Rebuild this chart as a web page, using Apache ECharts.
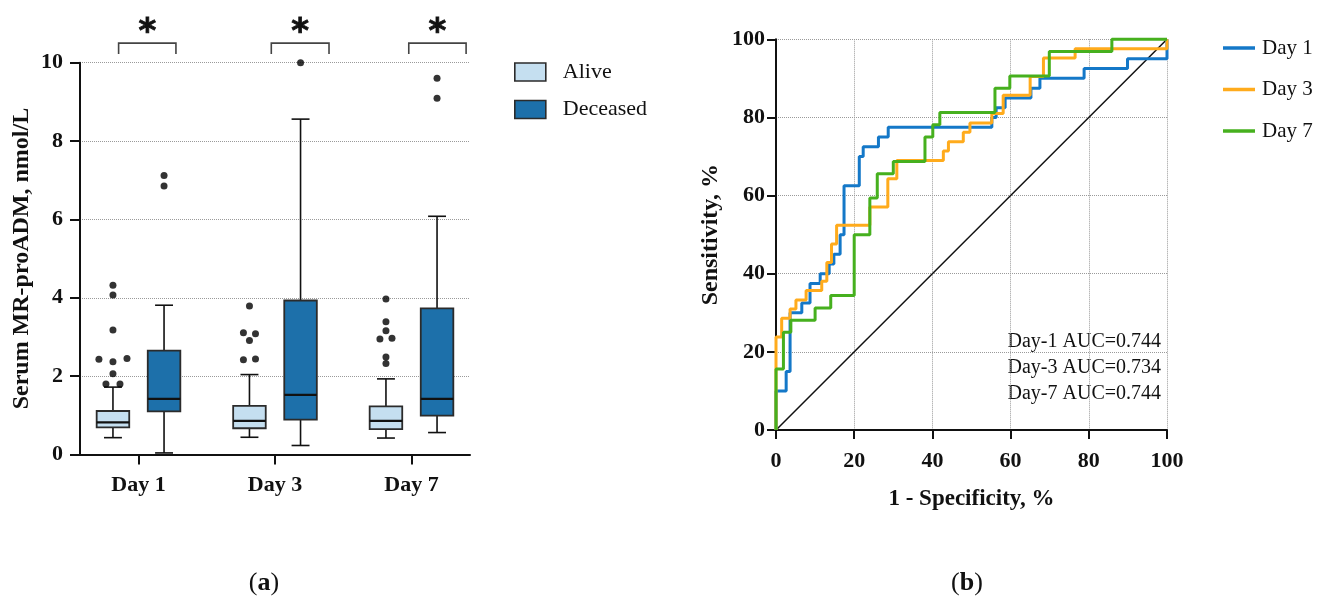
<!DOCTYPE html>
<html><head><meta charset="utf-8">
<script src="https://cdn.jsdelivr.net/npm/echarts@6/dist/echarts.min.js"></script>
<style>html,body{margin:0;padding:0;background:#fff}#c{width:1341px;height:601px}</style>
</head><body><div id="c"></div>
<script>
// ---------------- DATA ----------------
const categories = ['Day 1', 'Day 3', 'Day 7'];
const groupNames = ['Alive', 'Deceased'];
// [lower whisker, Q1, median, Q3, upper whisker]
const aliveStats = [
  [0.43, 0.69, 0.82, 1.11, 1.72],
  [0.44, 0.67, 0.86, 1.24, 2.04],
  [0.42, 0.65, 0.86, 1.23, 1.93]
];
const deceasedStats = [
  [0.04, 1.10, 1.42, 2.65, 3.81],
  [0.23, 0.89, 1.52, 3.93, 8.56],
  [0.56, 0.99, 1.42, 3.73, 6.08]
];
const aliveOutliers = [
  [4.32, 4.07, 3.18, 2.45, 2.43, 2.37, 2.06, 1.80, 1.80],
  [3.79, 3.11, 3.08, 2.91, 2.44, 2.42],
  [3.97, 3.39, 3.16, 2.97, 2.95, 2.49, 2.32]
];
const deceasedOutliers = [
  [7.12, 6.85],
  [10.0],
  [9.60, 9.09]
];
const significance = ['*', '*', '*'];

const rocNames = ['Day 1', 'Day 3', 'Day 7'];
const rocDay1 = [[0,0],[0,10],[2.6,10],[2.6,15],[3.6,15],[3.6,30],[6.6,30],[6.6,32.5],[8.7,32.5],[8.7,37.5],[11.3,37.5],[11.3,40],[13.6,40],[13.6,42.5],[14.8,42.5],[14.8,45],[16.4,45],[16.4,50],[17.4,50],[17.4,62.5],[21.3,62.5],[21.3,70],[22.3,70],[22.3,72.5],[26.2,72.5],[26.2,75],[28.7,75],[28.7,77.5],[55.2,77.5],[55.2,80],[56.3,80],[56.3,82.5],[58.6,82.5],[58.6,85],[65.2,85],[65.2,87.5],[67.5,87.5],[67.5,90],[78.8,90],[78.8,92.5],[89.9,92.5],[89.9,95],[100,95],[100,100]];
const rocDay3 = [[0,0],[0,23.8],[1.45,23.8],[1.45,28.6],[3.6,28.6],[3.6,31],[5.1,31],[5.1,33.3],[7.7,33.3],[7.7,35.7],[11.7,35.7],[11.7,38.1],[13,38.1],[13,42.9],[14.2,42.9],[14.2,47.6],[15.5,47.6],[15.5,52.4],[24,52.4],[24,57.1],[28.6,57.1],[28.6,64.3],[30.9,64.3],[30.9,69],[42.8,69],[42.8,71.4],[44.1,71.4],[44.1,73.8],[47.9,73.8],[47.9,76.2],[49.6,76.2],[49.6,78.6],[55.2,78.6],[55.2,81],[58.1,81],[58.1,85.7],[65,85.7],[65,90.5],[68.4,90.5],[68.4,95.2],[76.5,95.2],[76.5,97.6],[100,97.6],[100,100]];
const rocDay7 = [[0,0],[0,15.6],[1.9,15.6],[1.9,25],[3.8,25],[3.8,28.1],[10,28.1],[10,31.25],[14,31.25],[14,34.4],[20,34.4],[20,50],[24,50],[24,59.4],[25.9,59.4],[25.9,65.6],[30,65.6],[30,68.75],[38.1,68.75],[38.1,75],[40.1,75],[40.1,78.1],[41.9,78.1],[41.9,81.25],[56,81.25],[56,87.5],[59.8,87.5],[59.8,90.6],[69.9,90.6],[69.9,96.9],[85.9,96.9],[85.9,100],[100,100]];
const referenceLine = [[0,0],[100,100]];
const aucLabels = ['Day-1 AUC=0.744', 'Day-3 AUC=0.734', 'Day-7 AUC=0.744'];
const panelLabels = ['a', 'b'];

// ---------------- LAYOUT / STYLE ----------------
const SERIF = '"Liberation Serif", "Times New Roman", serif';
const dayPos = [3, 10, 17];          // x positions of categories on the left panel axis (0..20)
const groupOffset = [-1.31, 1.31];   // box offsets within a category
const boxW = 1.67, capW = 0.92;
const aliveSlots = [[0,0,0,1,-1,0,0,-0.5,0.5],[0,-0.43,0.43,0,0.43,-0.43],[0,0,0,0.43,-0.43,0,0]];
const slotUnit = 0.72;
const bracketSpan = [[-1.02,1.92],[-0.19,2.77],[-0.14,2.80]];
const boxColors = ['#c5dff0', '#1d70aa'];
const rocColors = ['#1478c8', '#ffab1c', '#46b01e'];

function boxRender(gi) {
  return function (params, api) {
    const i = api.value(0);
    const xc = dayPos[i] + groupOffset[gi];
    const v = [1,2,3,4,5].map(k => api.value(k));
    const p = v.map(val => api.coord([xc, val]));
    const cx = p[0][0];
    const half = api.size([boxW, 0])[0] / 2;
    const capHalf = api.size([capW, 0])[0] / 2;
    const ls = {stroke: '#111', lineWidth: 1.6};
    return {type: 'group', children: [
      {type: 'line', shape: {x1: cx, y1: p[3][1], x2: cx, y2: p[4][1]}, style: ls},
      {type: 'line', shape: {x1: cx, y1: p[1][1], x2: cx, y2: p[0][1]}, style: ls},
      {type: 'line', shape: {x1: cx - capHalf, y1: p[4][1], x2: cx + capHalf, y2: p[4][1]}, style: ls},
      {type: 'line', shape: {x1: cx - capHalf, y1: p[0][1], x2: cx + capHalf, y2: p[0][1]}, style: ls},
      {type: 'rect', shape: {x: cx - half, y: p[3][1], width: 2 * half, height: p[1][1] - p[3][1]},
        style: {fill: boxColors[gi], stroke: '#2b2b2b', lineWidth: 1.8}},
      {type: 'line', shape: {x1: cx - half, y1: p[2][1], x2: cx + half, y2: p[2][1]}, style: {stroke: '#111', lineWidth: 2.2}}
    ]};
  };
}

const outlierPoints = [];
aliveOutliers.forEach((arr, i) => arr.forEach((v, k) => outlierPoints.push([dayPos[i] + groupOffset[0] + aliveSlots[i][k] * slotUnit, v])));
deceasedOutliers.forEach((arr, i) => arr.forEach(v => outlierPoints.push([dayPos[i] + groupOffset[1], v])));

function bracketRender(params, api) {
  const i = api.value(0);
  const x1 = dayPos[i] + bracketSpan[i][0], x2 = dayPos[i] + bracketSpan[i][1];
  const a = api.coord([x1, 10.22]), b = api.coord([x1, 10.5]), c = api.coord([x2, 10.5]), d = api.coord([x2, 10.22]);
  const t = api.coord([(x1 + x2) / 2, 10.93]);
  return {type: 'group', children: [
    {type: 'polyline', shape: {points: [a, b, c, d]}, style: {stroke: '#444', lineWidth: 1.6, fill: null}},
    {type: 'text', x: t[0], y: t[1] + 7, style: {text: significance[i], fontSize: 34, fontWeight: 'bold',
      fontFamily: '"DejaVu Sans", sans-serif', fill: '#111', align: 'center', verticalAlign: 'middle',
      stroke: '#111', lineWidth: 0.8}}
  ]};
}

const axisLabelStyle = {fontFamily: SERIF, fontWeight: 'bold', fontSize: 22, color: '#111'};
const axisNameStyle = {fontFamily: SERIF, fontWeight: 'bold', fontSize: 23, color: '#111'};
const axisLine = {show: true, lineStyle: {color: '#111', width: 2}};
const splitDotted = {show: true, lineStyle: {color: '#9a9a9a', width: 1, type: 'dotted'}};

const option = {
  backgroundColor: '#fff',
  animation: false,
  grid: [
    {left: 80, top: 62.7, width: 390, height: 391.8},
    {left: 776, top: 39.3, width: 391, height: 390.7}
  ],
  xAxis: [
    {type: 'value', gridIndex: 0, min: 0, max: 20,
      axisLine: axisLine,
      axisTick: {show: true, length: 10, customValues: dayPos, lineStyle: {color: '#111', width: 2}},
      axisLabel: {show: true, customValues: dayPos, margin: 20, ...axisLabelStyle,
        formatter: v => categories[dayPos.indexOf(v)] || ''},
      splitLine: {show: false}},
    {type: 'value', gridIndex: 1, min: 0, max: 100, interval: 20,
      name: '1 - Specificity, %', nameLocation: 'middle', nameGap: 58, nameTextStyle: axisNameStyle,
      axisLine: axisLine,
      axisTick: {show: true, length: 9, lineStyle: {color: '#111', width: 2}},
      axisLabel: {margin: 20, ...axisLabelStyle},
      splitLine: splitDotted}
  ],
  yAxis: [
    {type: 'value', gridIndex: 0, min: 0, max: 10, interval: 2,
      name: 'Serum MR-proADM, nmol/L', nameLocation: 'middle', nameGap: 46, nameTextStyle: {...axisNameStyle, fontSize: 24},
      axisLine: axisLine,
      axisTick: {show: true, length: 10, lineStyle: {color: '#111', width: 2}},
      axisLabel: {margin: 17, ...axisLabelStyle},
      splitLine: splitDotted},
    {type: 'value', gridIndex: 1, min: 0, max: 100, interval: 20,
      name: 'Sensitivity, %', nameLocation: 'middle', nameGap: 53, nameTextStyle: {...axisNameStyle, fontSize: 24},
      axisLine: axisLine,
      axisTick: {show: true, length: 9, lineStyle: {color: '#111', width: 2}},
      axisLabel: {margin: 11, ...axisLabelStyle},
      splitLine: splitDotted}
  ],
  legend: [
    {data: groupNames, orient: 'vertical', left: 509, top: 56, icon: 'rect',
      itemWidth: 31, itemHeight: 18, itemGap: 15.5,
      itemStyle: {borderColor: '#2b2b2b', borderWidth: 1.6},
      textStyle: {fontFamily: SERIF, fontSize: 22, color: '#111', lineHeight: 22, padding: [0, 0, 0, 12]}},
    {data: rocNames, orient: 'vertical', left: 1218, top: 32, icon: 'rect',
      itemWidth: 32, itemHeight: 3.5, itemGap: 19.5,
      itemStyle: {borderWidth: 0},
      textStyle: {fontFamily: SERIF, fontSize: 21, color: '#111', lineHeight: 22, padding: [0, 0, 0, 2]}}
  ],
  graphic: [
    ...aucLabels.map((t, k) => ({type: 'text', right: 1341 - 1161, top: 332 + k * 26,
      style: {text: t, fontFamily: SERIF, fontSize: 20, fill: '#111'}})),
    ...panelLabels.map((t, k) => ({type: 'text', x: [264, 967][k], y: 583,
      style: {text: '{p|(}{b|' + t + '}{p|)}', align: 'center', verticalAlign: 'middle',
        rich: {p: {fontFamily: SERIF, fontSize: 26, fill: '#111'}, b: {fontFamily: SERIF, fontSize: 26, fontWeight: 'bold', fill: '#111'}}}}))
  ],
  series: [
    {type: 'custom', name: groupNames[0], xAxisIndex: 0, yAxisIndex: 0, z: 3,
      itemStyle: {color: boxColors[0], borderColor: '#2b2b2b', borderWidth: 1.6},
      data: aliveStats.map((s, i) => [i, ...s]), renderItem: boxRender(0)},
    {type: 'custom', name: groupNames[1], xAxisIndex: 0, yAxisIndex: 0, z: 3,
      itemStyle: {color: boxColors[1], borderColor: '#2b2b2b', borderWidth: 1.6},
      data: deceasedStats.map((s, i) => [i, ...s]), renderItem: boxRender(1)},
    {type: 'scatter', name: 'outliers', xAxisIndex: 0, yAxisIndex: 0, z: 4,
      symbol: 'circle', symbolSize: 7, itemStyle: {color: '#000'}, data: outlierPoints},
    {type: 'custom', name: 'significance', xAxisIndex: 0, yAxisIndex: 0, clip: false, z: 4,
      data: significance.map((s, i) => [i]), renderItem: bracketRender},
    {type: 'line', name: 'reference', xAxisIndex: 1, yAxisIndex: 1, data: referenceLine,
      symbol: 'none', lineStyle: {color: '#111', width: 1.5}, z: 2, clip: false},
    ...[rocDay1, rocDay3, rocDay7].map((d, k) => ({
      type: 'line', name: rocNames[k], xAxisIndex: 1, yAxisIndex: 1, data: d, symbol: 'none',
      clip: false, z: 3 + k, color: rocColors[k], lineStyle: {color: rocColors[k], width: 3}
    }))
  ]
};
const chart = echarts.init(document.getElementById('c'), null, {renderer: 'canvas'});
chart.setOption(option);
</script></body></html>
